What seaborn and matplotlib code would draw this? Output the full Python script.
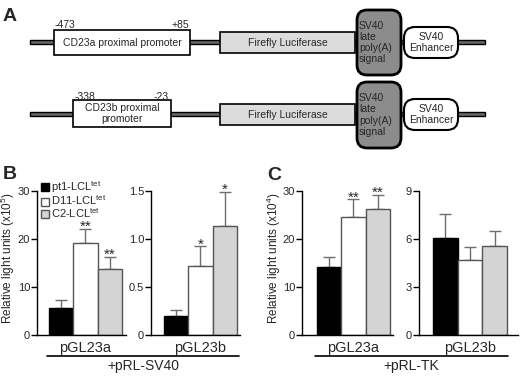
import numpy as np
import pandas as pd
import matplotlib.pyplot as plt
import seaborn as sns
from matplotlib.patches import Rectangle, FancyBboxPatch, Patch

# ---- data ----
cell_lines = ['pt1-LCL$^{tet}$', 'D11-LCL$^{tet}$', 'C2-LCL$^{tet}$']
bar_colors = ['#000000', '#ffffff', '#d4d4d4']

sv40_a_mean = [5.55, 19.2, 13.65]
sv40_a_err = [1.75, 2.8, 2.55]
sv40_a_stars = ['', '**', '**']

sv40_b_mean = [0.20, 0.72, 1.13]
sv40_b_err = [0.06, 0.20, 0.36]
sv40_b_stars = ['', '*', '*']

tk_a_mean = [14.1, 24.5, 26.1]
tk_a_err = [2.2, 3.7, 3.0]
tk_a_stars = ['', '**', '**']

tk_b_mean = [6.07, 4.7, 5.57]
tk_b_err = [1.48, 0.8, 0.93]
tk_b_stars = ['', '', '']

yticks_30 = [0, 10, 20, 30]
yticks_15 = [0, 0.5, 1.0, 1.5]
yticklabels_15 = ['0', '0.5', '1.0', '1.5']
yticks_9 = [0, 3, 6, 9]

sns.set_style('ticks')
plt.rcParams['font.family'] = ['Liberation Sans', 'DejaVu Sans']
plt.rcParams['mathtext.default'] = 'regular'

fig = plt.figure(figsize=(5.2, 3.78), dpi=100)

# ---- panel A: construct schematic, drawn in pixel coordinates ----
ax0 = fig.add_axes([0, 0, 1, 1])
ax0.set_xlim(0, 520)
ax0.set_ylim(378, 0)
ax0.axis('off')

rows = [
    dict(y=42, prom=(54, 190, 30, 55), prom_text='CD23a proximal promoter',
         nums=('-473', 55, '+85', 189), num_y=28,
         luc=(220, 355, 32, 53), pa=(357, 401, 10, 75), enh=(404, 458, 27, 58)),
    dict(y=114, prom=(73, 171, 100, 127), prom_text='CD23b proximal\npromoter',
         nums=('-338', 75, '-23', 169), num_y=100,
         luc=(220, 355, 104, 125), pa=(357, 401, 82, 148), enh=(404, 458, 99, 130)),
]
fs_a = 7.5
for r in rows:
    y = r['y']
    ax0.add_patch(Rectangle((30, y - 2), 455, 4, fc='#666666', ec='black', lw=1, zorder=1))
    x0, x1, y0, y1 = r['prom']
    ax0.add_patch(Rectangle((x0, y0), x1 - x0, y1 - y0, fc='white', ec='black', lw=1.2, zorder=2))
    ax0.text((x0 + x1) / 2, (y0 + y1) / 2, r['prom_text'], ha='center', va='center',
             fontsize=fs_a, linespacing=1.1, zorder=3)
    n1, nx1, n2, nx2 = r['nums']
    ax0.text(nx1, r['num_y'], n1, ha='left', va='baseline', fontsize=fs_a)
    ax0.text(nx2, r['num_y'], n2, ha='right', va='baseline', fontsize=fs_a)
    x0, x1, y0, y1 = r['luc']
    ax0.add_patch(Rectangle((x0, y0), x1 - x0, y1 - y0, fc='#dcdcdc', ec='black', lw=1.2, zorder=2))
    ax0.text((x0 + x1) / 2, (y0 + y1) / 2, 'Firefly Luciferase', ha='center', va='center',
             fontsize=fs_a, zorder=3)
    x0, x1, y0, y1 = r['pa']
    ax0.add_patch(FancyBboxPatch((x0, y0), x1 - x0, y1 - y0,
                                 boxstyle='round,pad=0,rounding_size=10',
                                 fc='#8c8c8c', ec='black', lw=2, zorder=2))
    ax0.text(x0 + 2, (y0 + y1) / 2, 'SV40\nlate\npoly(A)\nsignal', ha='left', va='center',
             fontsize=fs_a, linespacing=1.15, zorder=3)
    x0, x1, y0, y1 = r['enh']
    ax0.add_patch(FancyBboxPatch((x0, y0), x1 - x0, y1 - y0,
                                 boxstyle='round,pad=0,rounding_size=11',
                                 fc='white', ec='black', lw=1.5, zorder=2))
    ax0.text((x0 + x1) / 2, (y0 + y1) / 2, 'SV40\nEnhancer', ha='center', va='center',
             fontsize=fs_a, linespacing=1.1, zorder=3)

# panel letters
for letter, px, py in [('A', 3, 21), ('B', 3, 179), ('C', 267, 180)]:
    ax0.text(px, py, letter, ha='left', va='baseline', fontsize=14, weight='bold')

# ---- panels B and C: bar charts ----
bottom = 43 / 378
height = 144.3 / 378


def bar_panel(left_px, width_px, xlim, construct, means, errs, stars, yticks,
              yticklabels=None, ylabel=None, label_x=-0.2):
    ax = fig.add_axes([left_px / 520, bottom, width_px / 520, height])
    df = pd.DataFrame({'construct': [construct] * 3, 'cell': cell_lines, 'rlu': means})
    sns.barplot(data=df, x='construct', y='rlu', hue='cell', hue_order=cell_lines,
                palette=bar_colors, saturation=1, errorbar=None, width=0.8,
                linewidth=1, legend=False, ax=ax)
    bar_containers = list(ax.containers)
    for i, cont in enumerate(bar_containers):
        bar = cont[0]
        bar.set_edgecolor('black' if i == 0 else '#555555')
        bar.set_zorder(2)
        xc = bar.get_x() + bar.get_width() / 2
        ax.errorbar(xc, means[i], yerr=[[0], [errs[i]]], color='#6e6e6e', lw=1,
                    capsize=4, capthick=1, zorder=1)
        if stars[i]:
            ax.annotate(stars[i], (xc, means[i] + errs[i]), xytext=(0, -1.5),
                        textcoords='offset points', ha='center', va='baseline',
                        fontsize=11, annotation_clip=False)
    ax.set_xlim(*xlim)
    ax.set_ylim(yticks[0], yticks[-1])
    ax.set_yticks(yticks)
    if yticklabels is not None:
        ax.set_yticklabels(yticklabels)
    ax.set_xlabel('')
    ax.set_ylabel(ylabel if ylabel else '', fontsize=8.5)
    ax.yaxis.set_label_coords(label_x, 0.53)
    sns.despine(ax=ax)
    for s in ['left', 'bottom']:
        ax.spines[s].set_linewidth(1)
        ax.spines[s].set_color('black')
    ax.tick_params(axis='y', length=4, width=1, labelsize=8, pad=1, color='black')
    ax.tick_params(axis='x', length=0, labelsize=10.5, pad=4)
    ax.patch.set_alpha(0)
    return ax

axB1 = bar_panel(37, 89, (-0.531, 0.444), 'pGL23a', sv40_a_mean, sv40_a_err, sv40_a_stars,
                 yticks_30, ylabel='Relative light units (x10$^{5}$)', label_x=-0.225)
axB2 = bar_panel(151, 89, (-0.542, 0.433), 'pGL23b', sv40_b_mean, sv40_b_err, sv40_b_stars,
                 yticks_15, yticklabels_15)
axC1 = bar_panel(302, 91, (-0.564, 0.433), 'pGL23a', tk_a_mean, tk_a_err, tk_a_stars,
                 yticks_30, ylabel='Relative light units (x10$^{4}$)', label_x=-0.21)
axC2 = bar_panel(419, 99, (-0.553, 0.52), 'pGL23b', tk_b_mean, tk_b_err, tk_b_stars,
                 yticks_9)

# legend in panel B
handles = [Patch(facecolor=c, edgecolor='black' if i == 0 else '#555555', lw=1)
           for i, c in enumerate(bar_colors)]
axB1.legend(handles, cell_lines, loc='upper left', bbox_to_anchor=(41 / 520, 1 - 179 / 378),
            bbox_transform=fig.transFigure, frameon=False, fontsize=8,
            handlelength=0.75, handleheight=0.75, handletextpad=0.15,
            labelspacing=-0.1, borderpad=0, borderaxespad=0)

# group underlines and labels
for x0, x1, label in [(47, 239, '+pRL-SV40'), (315, 508, '+pRL-TK')]:
    ax0.plot([x0, x1], [356, 356], color='black', lw=1.2)
    ax0.text((x0 + x1) / 2, 366, label, ha='center', va='center', fontsize=10)

fig.savefig('out.png', dpi=100)
